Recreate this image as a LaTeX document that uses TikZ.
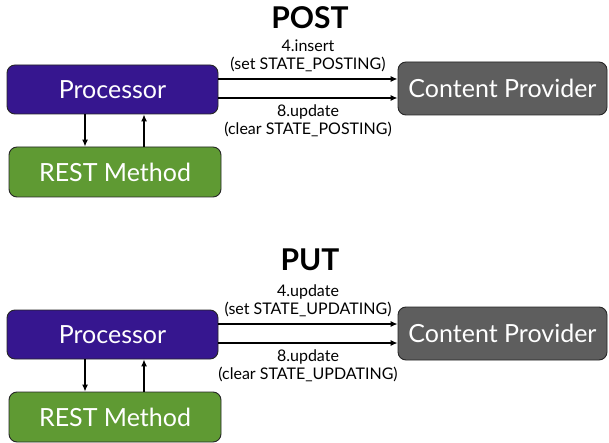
\documentclass[tikz,border=0pt]{standalone}
\usepackage{fontspec}
\setmainfont{Lato}
\usetikzlibrary{arrows.meta}

\definecolor{procblue}{HTML}{36168F}
\definecolor{restgreen}{HTML}{5F9A33}
\definecolor{cpgray}{HTML}{5E5E5E}

\tikzset{
  box/.style={draw=black!85,line width=0.9pt,rounded corners=8pt,text=white,
    inner sep=0pt,font=\fontsize{25}{28}\selectfont},
  proc/.style={box,fill=procblue,minimum width=211pt,minimum height=49pt},
  rest/.style={box,fill=restgreen,minimum width=212pt,minimum height=50pt},
  prov/.style={box,fill=cpgray,minimum width=209pt,minimum height=53pt},
  arr/.style={-{Latex[length=7pt,width=6pt]},line width=1.2pt},
  lbl/.style={align=center,font=\fontsize{16}{18}\selectfont},
  ttl/.style={font=\fontsize{30}{32}\selectfont\bfseries}
}

\begin{document}
\begin{tikzpicture}[x=1pt,y=-1pt]
        \useasboundingbox[fill=white](0,0)rectangle(609,443);

        % POST
        \node[ttl] (post) at (310,18) {POST};
        \node[proc] (proc1) at (112.5,89.5) {Processor};
        \node[rest] (rest1) at (115,172) {REST Method};
        \node[prov] (cp1) at (502.5,88.5) {Content Provider};

        \draw[arr](proc1.east|-0,79)--(cp1.west|-0,79);
        \draw[arr](proc1.east|-0,98)--(cp1.west|-0,98);
        \node[lbl] (ins1) at (308,56) {4.insert\\(set STATE\_POSTING)};
        \node[lbl] (upd1) at (308,121) {8.update\\(clear STATE\_POSTING)};

        \draw[arr](proc1.south-|85,0)--(rest1.north-|85,0);
        \draw[arr](rest1.north-|144,0)--(proc1.south-|144,0);

        % PUT
        \begin{scope}[shift={(0,245)}]
        \node[ttl] (put) at (310,15) {PUT};
        \node[proc] (proc2) at (112.5,89.5) {Processor};
        \node[rest] (rest2) at (115,172) {REST Method};
        \node[prov] (cp2) at (502.5,88.5) {Content Provider};

        \draw[arr](proc2.east|-0,79)--(cp2.west|-0,79);
        \draw[arr](proc2.east|-0,98)--(cp2.west|-0,98);
        \node[lbl] (ins2) at (308,56) {4.update\\(set STATE\_UPDATING)};
        \node[lbl] (upd2) at (308,121) {8.update\\(clear STATE\_UPDATING)};

        \draw[arr](proc2.south-|85,0)--(rest2.north-|85,0);
        \draw[arr](rest2.north-|144,0)--(proc2.south-|144,0);
        \end{scope}

    \end{tikzpicture}
\end{document}
